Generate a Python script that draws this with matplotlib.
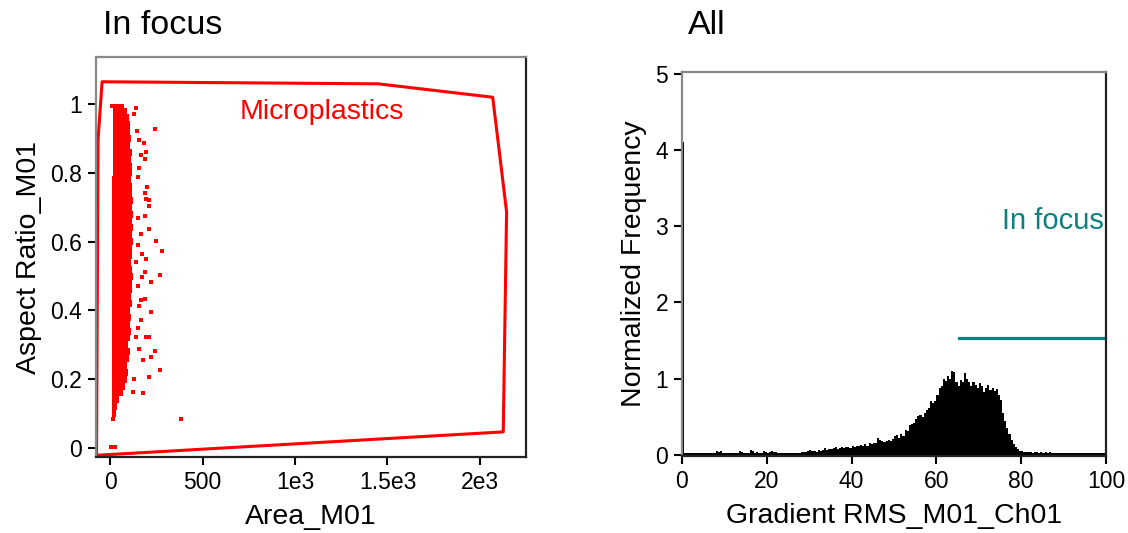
import numpy as np
import matplotlib
matplotlib.use('Agg')
import matplotlib.pyplot as plt

plt.rcParams['font.family'] = ['Liberation Sans', 'DejaVu Sans']

# ---- left panel: Area vs Aspect Ratio (dense core read as row extents) ----
core_y = [0.08, 0.10, 0.12, 0.14, 0.16, 0.18, 0.20, 0.22, 0.24, 0.26, 0.28, 0.30,
          0.32, 0.34, 0.36, 0.38, 0.40, 0.42, 0.44, 0.46, 0.48, 0.50, 0.52, 0.54,
          0.56, 0.58, 0.60, 0.62, 0.64, 0.66, 0.68, 0.70, 0.72, 0.74, 0.76, 0.78,
          0.80, 0.82, 0.84, 0.86, 0.88, 0.90, 0.92, 0.94, 0.96, 0.98, 1.00]
core_xmin = [6, 8, 8, 10, 10, 12, 12, 12, 12, 12, 12, 12,
             12, 12, 12, 12, 12, 12, 12, 12, 12, 12, 12, 12,
             12, 12, 12, 12, 12, 12, 12, 12, 12, 12, 12, 12,
             14, 14, 14, 16, 16, 16, 16, 16, 16, 16, 0]
core_xmax = [28, 32, 38, 50, 72, 80, 90, 95, 92, 102, 106, 98,
             108, 112, 106, 115, 110, 118, 112, 120, 116, 122, 118, 115,
             121, 117, 123, 118, 125, 119, 122, 117, 124, 118, 121, 115,
             120, 116, 112, 118, 110, 114, 106, 108, 100, 92, 75]

out_x = [141, 132, 245, 147, 159, 183, 196, 168, 187, 159, 150, 201, 190, 196, 208,
         208, 190, 150, 208, 168, 246, 150, 283, 172, 196, 141, 190, 268, 172, 219,
         150, 190, 165, 159, 219, 168, 150, 196, 208, 141, 159, 245, 219, 178, 268,
         208, 132, 178, 123, 382, 5, 27]
out_y = [0.990, 0.970, 0.928, 0.923, 0.897, 0.888, 0.862, 0.852, 0.840, 0.814, 0.788,
         0.759, 0.743, 0.724, 0.720, 0.704, 0.676, 0.668, 0.636, 0.623, 0.603, 0.589,
         0.574, 0.565, 0.550, 0.540, 0.511, 0.502, 0.498, 0.483, 0.471, 0.432, 0.430,
         0.414, 0.396, 0.372, 0.350, 0.324, 0.324, 0.324, 0.289, 0.282, 0.266, 0.256,
         0.226, 0.208, 0.200, 0.159, 0.163, 0.084, 0.002, 0.002]

gate_x = [-73, -65, -43, 1449, 2069, 2144, 2126, -73]
gate_y = [-0.021, 0.896, 1.065, 1.059, 1.020, 0.687, 0.047, -0.021]

# ---- right panel: histogram of Gradient RMS (bin width 0.5) ----
hist_vals = [
    4.10, 0.030, 0.030, 0.030, 0.030, 0.030, 0.030, 0.030, 0.030, 0.030,
    0.030, 0.030, 0.030, 0.030, 0.030, 0.030, 0.045, 0.035, 0.045, 0.030,
    0.030, 0.030, 0.030, 0.030, 0.030, 0.030, 0.030, 0.045, 0.040, 0.030,
    0.030, 0.030, 0.060, 0.045, 0.030, 0.040, 0.030, 0.030, 0.045, 0.040,
    0.030, 0.040, 0.045, 0.035, 0.040, 0.030, 0.030, 0.030, 0.030, 0.030,
    0.030, 0.030, 0.030, 0.030, 0.030, 0.030, 0.040, 0.035, 0.035, 0.050,
    0.065, 0.045, 0.045, 0.040, 0.060, 0.050, 0.070, 0.090, 0.060, 0.080,
    0.075, 0.090, 0.100, 0.080, 0.090, 0.100, 0.095, 0.100, 0.100, 0.090,
    0.110, 0.100, 0.120, 0.110, 0.130, 0.120, 0.140, 0.120, 0.150, 0.140,
    0.160, 0.150, 0.220, 0.190, 0.180, 0.170, 0.180, 0.190, 0.180, 0.210,
    0.250, 0.260, 0.220, 0.270, 0.250, 0.330, 0.310, 0.390, 0.400, 0.420,
    0.470, 0.510, 0.520, 0.500, 0.550, 0.590, 0.620, 0.710, 0.680, 0.700,
    0.780, 0.880, 0.900, 0.990, 0.970, 1.040, 1.000, 1.100, 1.080, 0.950,
    0.900, 0.980, 0.950, 1.070, 1.000, 0.960, 0.900, 0.950, 0.920, 0.880,
    0.940, 0.900, 0.830, 0.880, 0.920, 0.850, 0.880, 0.840, 0.860, 0.780,
    0.720, 0.550, 0.450, 0.350, 0.280, 0.200, 0.140, 0.100, 0.080, 0.055,
    0.050, 0.040, 0.035, 0.040, 0.035, 0.030, 0.035, 0.040, 0.030, 0.035,
    0.030, 0.040, 0.030, 0.035, 0.030, 0.030, 0.030, 0.030, 0.030, 0.030,
    0.030, 0.030, 0.030, 0.030, 0.030, 0.030, 0.030, 0.030, 0.030, 0.030,
    0.030, 0.030, 0.030, 0.030, 0.030, 0.030, 0.030, 0.030, 0.030, 0.030,
]
bin_width = 0.5
focus_gate_x = [65.3, 99.6]
focus_gate_y = [1.535, 1.535]


def style_box(ax):
    ax.spines['left'].set_color('#888888')
    ax.spines['top'].set_color('#888888')
    ax.spines['right'].set_color('#222222')
    ax.spines['bottom'].set_color('#222222')
    for s in ax.spines.values():
        s.set_linewidth(1.6)
    ax.tick_params(direction='out', length=6, width=1.5, labelsize=16.5, pad=4,
                   top=False, right=False)


def main():
    fig = plt.figure(figsize=(11.28, 5.33), dpi=100)

    ax1 = fig.add_axes([96 / 1128, 1 - 457 / 533, 430 / 1128, 400 / 533])
    ax1.fill_betweenx(core_y, core_xmin, core_xmax, step='mid', color='red', lw=0)
    ax1.scatter(out_x, out_y, s=6, marker='s', color='red', linewidths=0)
    ax1.plot(gate_x, gate_y, color='red', lw=2.2)
    ax1.text(703, 0.978, 'Microplastics', color='red', fontsize=20.5, va='center', ha='left')
    ax1.set_xlim(-76, 2249)
    ax1.set_ylim(-0.026, 1.137)
    ax1.set_xticks([0, 500, 1000, 1500, 2000])
    ax1.set_xticklabels(['0', '500', '1e3', '1.5e3', '2e3'])
    ax1.set_yticks([0, 0.2, 0.4, 0.6, 0.8, 1.0])
    ax1.set_yticklabels(['0', '0.2', '0.4', '0.6', '0.8', '1'])
    ax1.set_xlabel('Area_M01', fontsize=20.5, labelpad=7)
    ax1.set_ylabel('Aspect Ratio_M01', fontsize=20.5, labelpad=6)
    style_box(ax1)

    ax2 = fig.add_axes([682 / 1128, 1 - 456 / 533, 424 / 1128, 384 / 533])
    edges = np.arange(len(hist_vals) + 1) * bin_width
    ax2.stairs(hist_vals, edges, fill=True, color='black', lw=0.6)
    ax2.plot(focus_gate_x, focus_gate_y, color='#0e8080', lw=2.3)
    ax2.text(99.5, 3.07, 'In focus', color='#0e8080', fontsize=21, va='center', ha='right')
    ax2.set_xlim(0, 100)
    ax2.set_ylim(-0.015, 5.02)
    ax2.set_xticks([0, 20, 40, 60, 80, 100])
    ax2.set_yticks([0, 1, 2, 3, 4, 5])
    ax2.set_xlabel('Gradient RMS_M01_Ch01', fontsize=20.5, labelpad=7)
    ax2.set_ylabel('Normalized Frequency', fontsize=20.5, labelpad=6)
    style_box(ax2)

    fig.text(103 / 1128, 1 - 25 / 533, 'In focus', fontsize=24.5, va='center', ha='left')
    fig.text(688 / 1128, 1 - 25 / 533, 'All', fontsize=24.5, va='center', ha='left')

    fig.savefig('out.png', dpi=100)


if __name__ == "__main__":
    main()
